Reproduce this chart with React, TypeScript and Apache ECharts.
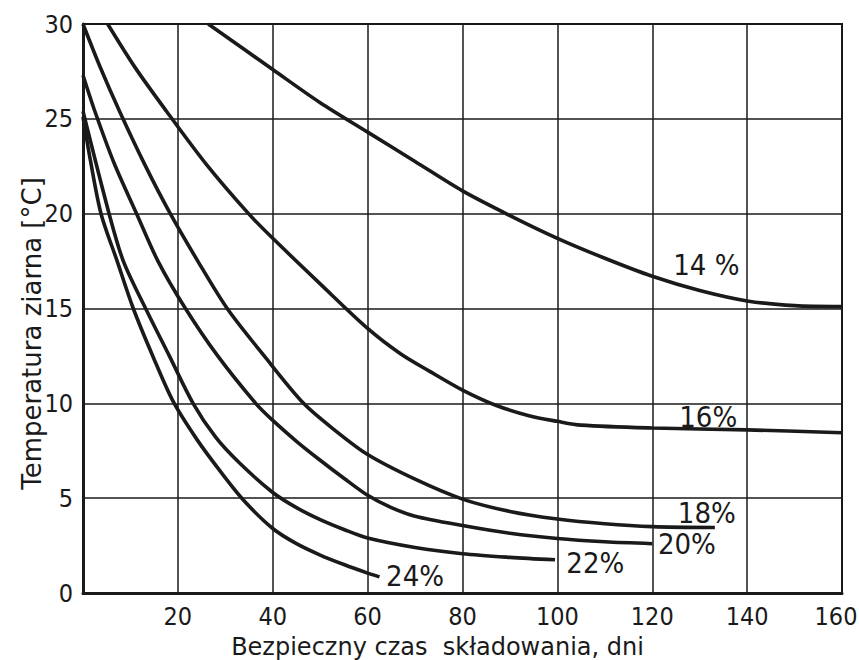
import React, { useEffect, useRef } from "react";
import * as echarts from "echarts";

// Safe storage time (days) vs grain temperature (°C) for moisture contents
const days14 = [26.4, 40, 50, 60, 70, 80, 90, 100, 110, 120, 130, 140, 150, 160];
const temp14 = [30, 27.6, 25.85, 24.3, 22.75, 21.2, 19.9, 18.7, 17.65, 16.7, 15.95, 15.4, 15.15, 15.1];

const days16 = [5.2, 11, 17.6, 26, 34.9, 40, 50, 60, 67, 73, 80, 87, 94, 100, 105, 120, 140, 160];
const temp16 = [30, 27.7, 25.4, 22.6, 20, 18.7, 16.3, 13.95, 12.6, 11.7, 10.7, 9.9, 9.35, 9.05, 8.85, 8.7, 8.6, 8.45];

const days18 = [0, 3.5, 7.7, 13, 18.4, 24.2, 30.4, 38.2, 46.5, 53, 60, 70, 80, 90, 100, 110, 120, 133.2];
const temp18 = [30, 27.8, 25.4, 22.6, 20, 17.5, 15, 12.5, 10, 8.6, 7.3, 6.0, 4.95, 4.3, 3.9, 3.65, 3.5, 3.45];

const days20 = [0, 2.5, 6.5, 11.3, 15.8, 21.6, 28.4, 36.4, 40, 45, 50, 55, 60, 65, 70, 80, 90, 100, 110, 120];
const temp20 = [27.3, 25.4, 22.7, 20, 17.5, 15, 12.5, 10, 9.1, 8.0, 7.0, 6.05, 5.15, 4.5, 4.05, 3.56, 3.15, 2.87, 2.7, 2.6];

const days22 = [0, 5.5, 8.5, 13.2, 18.2, 23.2, 28, 33, 40, 45, 50, 55, 60, 70, 80, 90, 99.5];
const temp22 = [25.4, 20, 17.5, 15, 12.5, 10, 8.2, 6.85, 5.3, 4.5, 3.87, 3.35, 2.9, 2.4, 2.07, 1.88, 1.75];

const days24 = [0, 1.5, 3.8, 7.2, 10.6, 14.7, 19, 24, 29, 34, 40, 45, 50, 55, 60, 62.5];
const temp24 = [25.1, 22.9, 20, 17.5, 15, 12.5, 10.1, 8.1, 6.4, 4.85, 3.4, 2.6, 2.0, 1.5, 1.05, 0.85];

const seriesNames = ["14%", "16%", "18%", "20%", "22%", "24%"];
const seriesDays = [days14, days16, days18, days20, days22, days24];
const seriesTemps = [temp14, temp16, temp18, temp20, temp22, temp24];

// Curve labels (text and anchor in data coordinates)
const labelTexts = ["14 %", "16%", "18%", "20%", "22%", "24%"];
const labelDays = [131.4, 131.8, 131.5, 127.3, 108, 70];
const labelTemps = [17.3, 9.28, 4.24, 2.58, 1.6, 0.9];

const xTicks = [0, 20, 40, 60, 80, 100, 120, 140, 160];
const yTicks = [0, 5, 10, 15, 20, 25, 30];

const NUM_FONT =
  "'Liberation Sans Narrow', 'DejaVu Sans Condensed', 'Roboto Condensed', 'Liberation Sans', sans-serif";
const TITLE_FONT = "'DejaVu Sans', 'Liberation Sans', sans-serif";
const INK = "#1a1a1a";

export default function App() {
  const ref = useRef<HTMLDivElement>(null);

  useEffect(() => {
    if (!ref.current) return;
    const chart = echarts.init(ref.current, null, { renderer: "svg" });

    const lineSeries = seriesNames.map((name, i) => ({
      name,
      type: "line",
      data: seriesDays[i].map((d, j) => [d, seriesTemps[i][j]]),
      smooth: 0.3,
      showSymbol: false,
      symbol: "none",
      lineStyle: { color: INK, width: 3.6 },
      z: 5,
    }));

    const labelSeries = {
      type: "scatter",
      symbolSize: 0,
      silent: true,
      itemStyle: { opacity: 1 },
      data: labelTexts.map((t, i) => ({ name: t, value: [labelDays[i], labelTemps[i]] })),
      label: {
        show: true,
        position: "inside",
        formatter: (p: any) => p.name,
        color: INK,
        opacity: 1,
        fontFamily: NUM_FONT,
        fontSize: 29,
      },
      z: 6,
    };

    const lastX = xTicks[xTicks.length - 1];

    chart.setOption({
      animation: false,
      backgroundColor: "#ffffff",
      grid: {
        left: 83,
        right: 17,
        top: 24,
        bottom: 67,
        outerBoundsMode: "none",
        containLabel: false,
        show: true,
        borderColor: INK,
        borderWidth: 2,
        backgroundColor: "transparent",
      },
      xAxis: {
        type: "value",
        min: xTicks[0],
        max: lastX,
        interval: 20,
        name: "Bezpieczny czas  składowania, dni",
        nameLocation: "middle",
        nameGap: 42,
        nameMoveOverlap: false,
        nameTextStyle: {
          color: INK,
          fontFamily: TITLE_FONT,
          fontSize: 24,
          verticalAlign: "top",
          padding: [0, 50, 0, 0],
        },
        axisLine: { show: true, lineStyle: { color: INK, width: 3 } },
        axisTick: { show: false },
        axisLabel: {
          showMinLabel: false,
          color: INK,
          fontFamily: NUM_FONT,
          fontSize: 25,
          margin: 11,
          formatter: (v: number) => (v === lastX ? `{e|${v}}` : `${v}`),
          rich: {
            e: {
              color: INK,
              fontFamily: NUM_FONT,
              fontSize: 25,
              padding: [0, 12, 0, 0],
            },
          },
        },
        splitLine: { show: true, lineStyle: { color: INK, width: 1.5 } },
      },
      yAxis: {
        type: "value",
        min: yTicks[0],
        max: yTicks[yTicks.length - 1],
        interval: 5,
        name: "Temperatura ziarna [°C]",
        nameLocation: "middle",
        nameGap: 38,
        nameMoveOverlap: false,
        nameTextStyle: {
          color: INK,
          fontFamily: TITLE_FONT,
          fontSize: 26,
          padding: [0, 50, 0, 0],
        },
        axisLine: { show: true, lineStyle: { color: INK, width: 3 } },
        axisTick: { show: false },
        axisLabel: {
          color: INK,
          fontFamily: NUM_FONT,
          fontSize: 25,
          margin: 10,
        },
        splitLine: { show: true, lineStyle: { color: INK, width: 1.5 } },
      },
      series: [...lineSeries, labelSeries],
    });

    return () => chart.dispose();
  }, []);

  return (
    <div
      ref={ref}
      style={{
        position: "fixed",
        left: 0,
        top: 0,
        width: 859,
        height: 660,
        background: "#ffffff",
      }}
    />
  );
}
